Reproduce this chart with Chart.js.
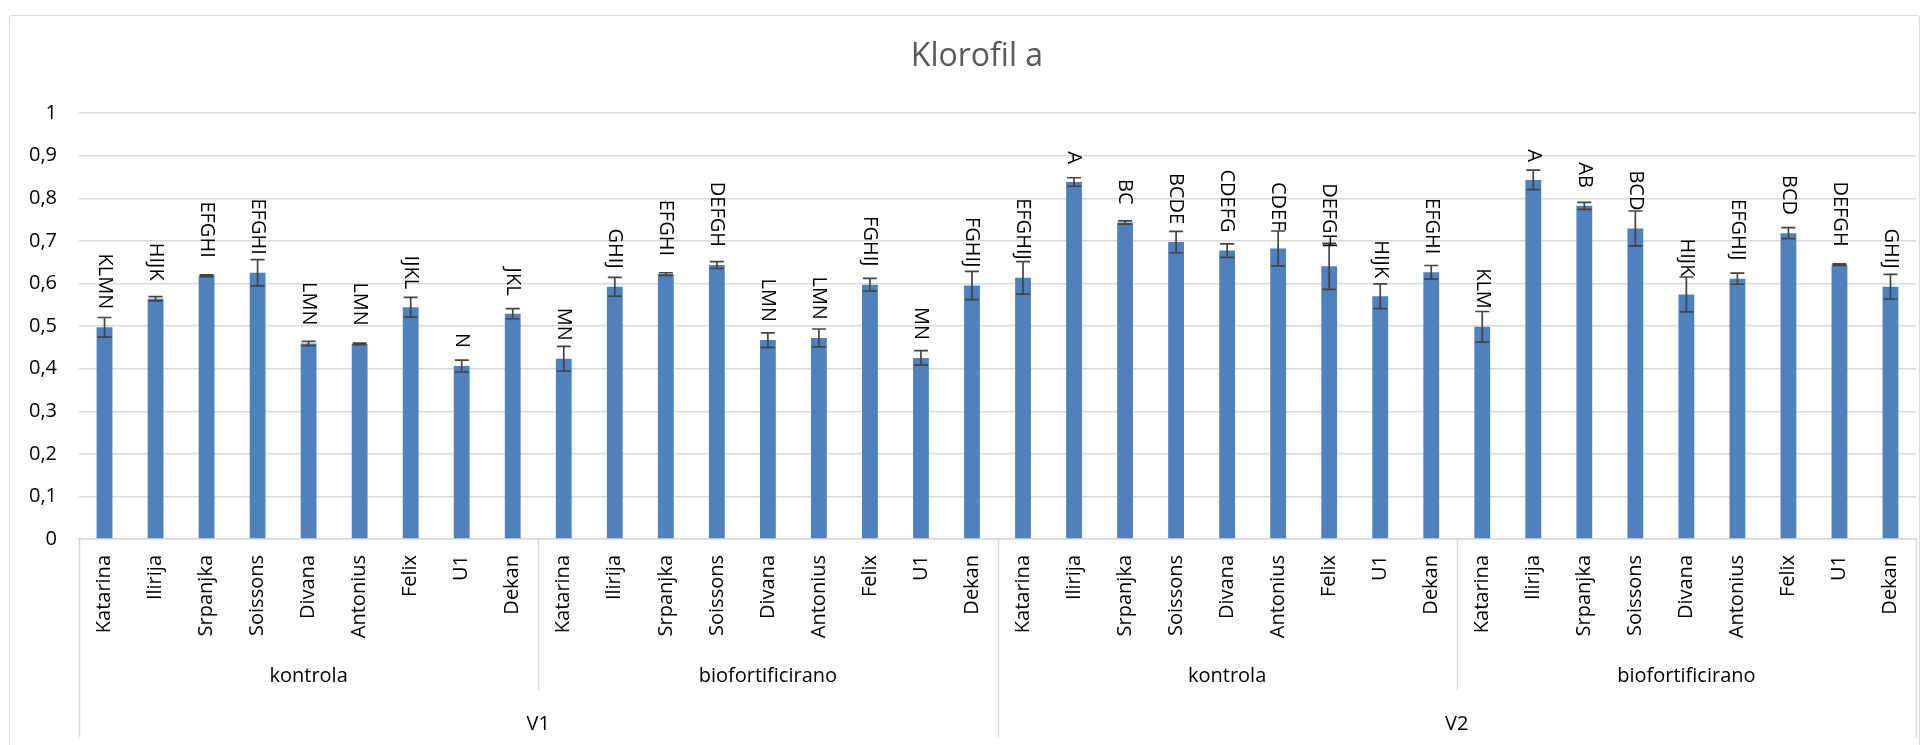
<!DOCTYPE html>
<html>
<head>
<meta charset="utf-8">
<title>Klorofil a</title>
<script src="https://cdn.jsdelivr.net/npm/chart.js@4.4.1/dist/chart.umd.min.js"></script>
<style>
  html, body { margin: 0; padding: 0; background: #fff; overflow: hidden; }
  #frame {
    position: absolute; left: 9px; top: 15px; width: 1911px; height: 760px;
    border: 1.5px solid #d9d9d9; border-radius: 3px; box-sizing: border-box;
  }
  #chart { position: absolute; left: 0; top: 0; }
</style>
</head>
<body>
<div id="frame"></div>
<canvas id="chart" width="1930" height="745"></canvas>
<script>
// cultivars and grouping
const cultivars = ["Katarina", "Ilirija", "Srpanjka", "Soissons", "Divana", "Antonius", "Felix", "U1", "Dekan"];
const treatments = ["kontrola", "biofortificirano"];
const versions = ["V1", "V2"];
const chartTitle = "Klorofil a";

// means
const v1Kontrola = [0.497, 0.564, 0.618, 0.625, 0.459, 0.458, 0.544, 0.406, 0.529];
const v1Bio      = [0.423, 0.592, 0.622, 0.643, 0.467, 0.472, 0.597, 0.425, 0.595];
const v2Kontrola = [0.613, 0.838, 0.743, 0.697, 0.677, 0.682, 0.640, 0.570, 0.626];
const v2Bio      = [0.498, 0.843, 0.782, 0.729, 0.574, 0.611, 0.718, 0.644, 0.592];

// error bar half-lengths
const v1KontrolaErr = [0.023, 0.005, 0.002, 0.031, 0.005, 0.002, 0.023, 0.014, 0.012];
const v1BioErr      = [0.029, 0.022, 0.003, 0.008, 0.017, 0.021, 0.015, 0.017, 0.033];
const v2KontrolaErr = [0.038, 0.010, 0.004, 0.025, 0.016, 0.041, 0.054, 0.029, 0.016];
const v2BioErr      = [0.036, 0.023, 0.008, 0.041, 0.041, 0.013, 0.013, 0.002, 0.029];

// significance letters
const v1KontrolaLetters = ["KLMN", "HIJK", "EFGHI", "EFGHI", "LMN", "LMN", "IJKL", "N", "JKL"];
const v1BioLetters      = ["MN", "GHIJ", "EFGHI", "DEFGH", "LMN", "LMN", "FGHIJ", "MN", "FGHIJ"];
const v2KontrolaLetters = ["EFGHIJ", "A", "BC", "BCDE", "CDEFG", "CDEF", "DEFGH", "HIJK", "EFGHI"];
const v2BioLetters      = ["KLM", "A", "AB", "BCD", "HIJK", "EFGHIJ", "BCD", "DEFGH", "GHIJ"];

const yTicks = [0, 0.1, 0.2, 0.3, 0.4, 0.5, 0.6, 0.7, 0.8, 0.9, 1];

// build flat lists
const labels = [].concat(cultivars, cultivars, cultivars, cultivars);
const values = [].concat(v1Kontrola, v1Bio, v2Kontrola, v2Bio);
const errors = [].concat(v1KontrolaErr, v1BioErr, v2KontrolaErr, v2BioErr);
const letters = [].concat(v1KontrolaLetters, v1BioLetters, v2KontrolaLetters, v2BioLetters);

const FONT = "'Open Sans', 'DejaVu Sans', sans-serif";

// error bars + letters above bars
const barExtras = {
  id: "barExtras",
  afterDatasetsDraw(chart) {
    const ctx = chart.ctx;
    const y = chart.scales.y;
    const meta = chart.getDatasetMeta(0);
    ctx.save();
    ctx.strokeStyle = "#444";
    ctx.lineWidth = 1.7;
    meta.data.forEach((bar, i) => {
      const top = y.getPixelForValue(values[i] + errors[i]);
      const bot = y.getPixelForValue(values[i] - errors[i]);
      ctx.beginPath();
      ctx.moveTo(bar.x, top); ctx.lineTo(bar.x, bot);
      ctx.moveTo(bar.x - 7, top); ctx.lineTo(bar.x + 7, top);
      ctx.moveTo(bar.x - 7, bot); ctx.lineTo(bar.x + 7, bot);
      ctx.stroke();
    });
    ctx.fillStyle = "#000";
    ctx.font = "20px " + FONT;
    ctx.textAlign = "right";
    ctx.textBaseline = "middle";
    meta.data.forEach((bar, i) => {
      ctx.save();
      ctx.translate(bar.x, bar.y - 18);
      ctx.rotate(Math.PI / 2);
      ctx.fillText(letters[i], 0, 0);
      ctx.restore();
    });
    ctx.restore();
  }
};

// title (sits a little right of centre, as in the source) and the
// second and third level of the category axis
const groupAxis = {
  id: "groupAxis",
  afterDraw(chart) {
    const ctx = chart.ctx;
    const x = chart.scales.x;
    const n = labels.length;
    const per = cultivars.length;
    const edge = (i) => {
      if (i <= 0) return x.left;
      if (i >= n) return x.right;
      return (x.getPixelForValue(i - 1) + x.getPixelForValue(i)) / 2;
    };
    const axisY = x.top;
    ctx.save();
    ctx.fillStyle = "#595959";
    ctx.font = "32px " + FONT;
    ctx.textAlign = "center";
    ctx.textBaseline = "middle";
    ctx.fillText(chartTitle, 977, 57);

    ctx.strokeStyle = "#d9d9d9";
    ctx.lineWidth = 1.5;
    for (let g = 0; g <= n / per; g++) {
      const px = Math.round(edge(g * per)) + 0.5;
      const full = g % treatments.length === 0;
      ctx.beginPath();
      ctx.moveTo(px, axisY);
      ctx.lineTo(px, full ? axisY + 198 : axisY + 151);
      ctx.stroke();
    }
    ctx.fillStyle = "#000";
    ctx.font = "20px " + FONT;
    for (let g = 0; g < n / per; g++) {
      const cx = (edge(g * per) + edge((g + 1) * per)) / 2;
      ctx.fillText(treatments[g % treatments.length], cx, axisY + 137);
    }
    const vPer = per * treatments.length;
    versions.forEach((v, k) => {
      const cx = (edge(k * vPer) + edge((k + 1) * vPer)) / 2;
      ctx.fillText(v, cx, axisY + 185);
    });
    ctx.restore();
  }
};

new Chart(document.getElementById("chart"), {
  type: "bar",
  data: {
    labels: labels,
    datasets: [{
      data: values,
      backgroundColor: "#4F81BD",
      borderWidth: 0,
      barPercentage: 0.31,
      categoryPercentage: 1
    }]
  },
  options: {
    responsive: false,
    animation: false,
    devicePixelRatio: 1,
    layout: { padding: { left: 0, right: 14, top: 113, bottom: 0 } },
    plugins: {
      legend: { display: false },
      tooltip: { enabled: false },
      title: { display: false }
    },
    scales: {
      x: {
        grid: { display: false },
        border: { display: true, color: "#d9d9d9", width: 1.5 },
        ticks: {
          color: "#000",
          font: { family: FONT, size: 20 },
          minRotation: 90,
          maxRotation: 90,
          autoSkip: false,
          padding: 8
        },
        afterFit: (scale) => { scale.height = 206; }
      },
      y: {
        min: 0,
        max: 1,
        afterBuildTicks: (scale) => { scale.ticks = yTicks.map(v => ({ value: v })); },
        grid: { color: "#d9d9d9", lineWidth: 1.4, drawTicks: false },
        border: { display: false },
        ticks: {
          color: "#000",
          font: { family: FONT, size: 20 },
          padding: 22,
          callback: (v) => String(Math.round(v * 10) / 10).replace(".", ",")
        },
        afterFit: (scale) => { scale.width = 79; }
      }
    }
  },
  plugins: [barExtras, groupAxis]
});
</script>
</body>
</html>
